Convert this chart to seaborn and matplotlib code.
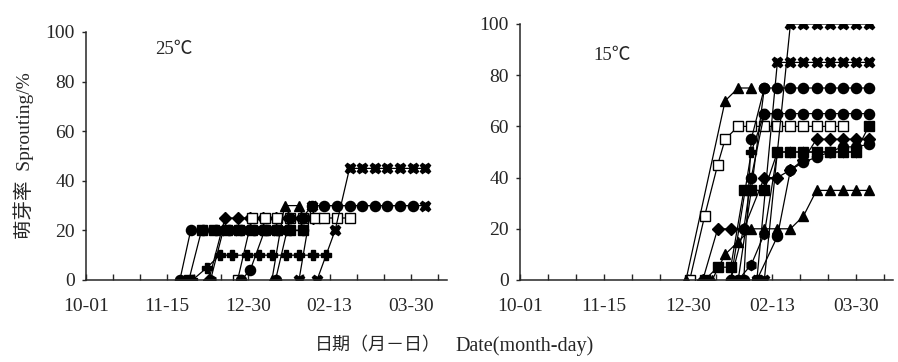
import matplotlib
matplotlib.use("Agg")
import matplotlib.pyplot as plt
import pandas as pd
import seaborn as sns

# ---------------- axis ticks ----------------
tick_dates = ["10-01", "10-16", "10-31", "11-15", "11-30", "12-15", "12-30",
              "01-14", "01-29", "02-13", "02-28", "03-15", "03-30", "04-14"]
tick_labels = ["10-01", "", "", "11-15", "", "", "12-30",
               "", "", "02-13", "", "", "03-30", ""]
y_ticks = [0, 20, 40, 60, 80, 100]

# ---------------- 25 °C panel ----------------
a1_dates = ["11-22", "11-28", "12-05", "12-12", "12-19", "12-26", "01-02", "01-09", "01-16"]
a1_vals = [0, 20, 20, 20, 20, 20, 20, 20, 20]
a2_dates = ["11-27", "12-04", "12-11", "12-18", "12-25", "01-01", "01-08", "01-15", "01-22", "01-29"]
a2_vals = [0, 20, 20, 20, 20, 20, 20, 20, 20, 20]
a3_dates = ["11-29", "12-07", "12-14", "12-21", "12-29", "01-05", "01-12", "01-20", "01-27", "02-04", "02-11"]
a3_vals = [0, 5, 10, 10, 10, 10, 10, 10, 10, 10, 10]
a4_dates = ["12-08", "12-17", "12-24", "12-31", "01-07", "01-14", "01-21", "01-28", "02-04"]
a4_vals = [0, 25, 25, 25, 25, 25, 25, 25, 25]
a5_dates = ["12-09", "12-16", "12-23", "12-30", "01-06", "01-13", "01-20"]
a5_vals = [0, 20, 20, 20, 20, 20, 20]
a6_dates = ["12-24", "01-01", "01-08", "01-15", "01-22", "01-29", "02-05", "02-10", "02-17", "02-24"]
a6_vals = [0, 25, 25, 25, 25, 25, 25, 25, 25, 25]
a7_dates = ["12-26", "12-31", "01-08", "01-15", "01-22", "01-29"]
a7_vals = [0, 4, 20, 20, 20, 20]
a8_dates = ["01-12", "01-19", "01-27"]
a8_vals = [0, 30, 30]
a9_dates = ["01-14", "01-22", "01-29", "02-03", "02-10", "02-17", "02-24", "03-03",
            "03-10", "03-17", "03-24", "03-31"]
a9_vals = [0, 25, 25, 30, 30, 30, 30, 30, 30, 30, 30, 30]
a10_dates = ["01-27", "02-03", "04-07"]
a10_vals = [0, 30, 30]
a11_dates = ["02-06", "02-16", "02-24", "03-03", "03-10", "03-17", "03-24", "03-31", "04-07"]
a11_vals = [0, 20, 45, 45, 45, 45, 45, 45, 45]

# ---------------- 15 °C panel ----------------
b1_dates = ["12-31", "01-08", "01-15", "01-19", "01-26", "02-02", "02-09", "02-16",
            "02-23", "03-02", "03-09", "03-16", "03-23"]
b1_vals = [0, 25, 45, 55, 60, 60, 60, 60, 60, 60, 60, 60, 60]
b2_dates = ["12-29", "01-19", "01-26", "02-02"]
b2_vals = [0, 70, 75, 75]
b3_dates = ["01-22", "01-29", "02-02", "02-09", "02-16", "02-23", "03-02", "03-09",
            "03-16", "03-23", "03-30", "04-06"]
b3_vals = [0, 20, 40, 65, 65, 65, 65, 65, 65, 65, 65, 65]
b4_dates = ["01-26", "02-02", "02-09", "02-16", "02-23", "03-02", "03-09", "03-16",
            "03-23", "03-30", "04-06"]
b4_vals = [0, 35, 75, 75, 75, 75, 75, 75, 75, 75, 75]
b5_dates = ["02-05", "02-16", "02-23", "03-02", "03-09", "03-16", "03-23", "03-30", "04-06"]
b5_vals = [0, 85, 85, 85, 85, 85, 85, 85, 85]
b6_dates = ["02-09", "02-23", "03-02", "03-09", "03-16", "03-23", "03-30", "04-06"]
b6_vals = [0, 100, 100, 100, 100, 100, 100, 100]
b7_dates = ["01-07", "01-15", "01-22", "01-29", "02-09", "02-16", "02-23", "03-02",
            "03-09", "03-16", "03-23", "03-30", "04-06"]
b7_vals = [0, 20, 20, 20, 40, 40, 43, 47, 55, 55, 55, 55, 55]
b8_dates = ["01-12", "01-19", "01-26", "02-02", "02-09", "02-16", "02-23", "03-02",
            "03-09", "03-16", "03-23", "03-30", "04-06"]
b8_vals = [0, 10, 15, 20, 20, 20, 20, 25, 35, 35, 35, 35, 35]
b9_dates = ["01-08", "01-15", "01-22", "01-29", "02-02", "02-09", "02-16", "02-23",
            "03-02", "03-09", "03-16", "03-23", "03-30", "04-06"]
b9_vals = [0, 5, 5, 35, 35, 35, 50, 50, 50, 50, 50, 50, 50, 60]
b10_dates = ["02-05", "02-16", "02-23", "03-02", "03-09", "03-16", "03-23", "03-30", "04-06"]
b10_vals = [0, 17, 43, 46, 48, 50, 52, 52, 53]
b11_dates = ["01-26", "02-02", "02-09", "02-16", "02-23", "03-02", "03-09", "03-16", "03-23", "03-30"]
b11_vals = [0, 6, 18, 50, 50, 50, 50, 50, 50, 50]
b12_dates = ["01-22", "02-02", "02-09", "02-16"]
b12_vals = [0, 50, 65, 65]
b13_dates = ["01-29", "02-02", "02-09"]
b13_vals = [0, 55, 75]


def to_day(md):
    m, d = (int(v) for v in md.split("-"))
    year = 2009 if m >= 10 else 2010
    return (pd.Timestamp(year, m, d) - pd.Timestamp(2009, 10, 1)).days


left_series = [
    (a1_dates, a1_vals, "o", "black"),
    (a2_dates, a2_vals, "s", "black"),
    (a3_dates, a3_vals, "P", "black"),
    (a4_dates, a4_vals, "D", "black"),
    (a5_dates, a5_vals, "h", "black"),
    (a6_dates, a6_vals, "s", "white"),
    (a7_dates, a7_vals, "o", "black"),
    (a8_dates, a8_vals, "^", "black"),
    (a9_dates, a9_vals, "o", "black"),
    (a10_dates, a10_vals, "X", "black"),
    (a11_dates, a11_vals, "X", "black"),
]
right_series = [
    (b1_dates, b1_vals, "s", "white"),
    (b2_dates, b2_vals, "^", "black"),
    (b3_dates, b3_vals, "o", "black"),
    (b4_dates, b4_vals, "o", "black"),
    (b5_dates, b5_vals, "X", "black"),
    (b6_dates, b6_vals, "X", "black"),
    (b7_dates, b7_vals, "D", "black"),
    (b8_dates, b8_vals, "^", "black"),
    (b9_dates, b9_vals, "s", "black"),
    (b10_dates, b10_vals, "o", "black"),
    (b11_dates, b11_vals, "h", "black"),
    (b12_dates, b12_vals, "P", "black"),
    (b13_dates, b13_vals, "o", "black"),
]

sns.set_style("ticks")
serif = ["Liberation Serif", "Noto Sans CJK SC"]
plt.rcParams["font.family"] = serif
plt.rcParams["axes.linewidth"] = 1.1

fig = plt.figure(figsize=(8.98, 3.62), dpi=100)
ax1 = fig.add_axes([86 / 898, 1 - 280 / 362, (447 - 86) / 898, (280 - 32) / 362])
ax2 = fig.add_axes([520 / 898, 1 - 280 / 362, (893 - 520) / 898, (280 - 24) / 362])

tick_pos = [to_day(t) for t in tick_dates]

for ax, series in ((ax1, left_series), (ax2, right_series)):
    for dates, vals, mk, fc in series:
        df = pd.DataFrame({"day": [to_day(d) for d in dates], "pct": vals})
        sns.lineplot(data=df, x="day", y="pct", ax=ax, color="black", linewidth=0.9,
                     marker=mk, markersize=7.3 if mk != "D" else 6.2,
                     markerfacecolor=fc, markeredgecolor="black", markeredgewidth=1.0,
                     estimator=None, sort=False)
    ax.set_xlim(0, 200)
    ax.set_ylim(0, 100)
    ax.set_xticks(tick_pos)
    ax.set_xticklabels(tick_labels)
    ax.set_yticks(y_ticks)
    ax.tick_params(axis="x", direction="in", length=4, width=1, pad=13, labelsize=14)
    ax.tick_params(axis="y", direction="out", length=3, width=1, pad=5, labelsize=14)
    ax.set_xlabel("")
    ax.set_ylabel("")
    for s in ("top", "right"):
        ax.spines[s].set_visible(False)
    for lab in ax.get_xticklabels() + ax.get_yticklabels():
        lab.set_fontfamily(serif)

ax1.set_ylabel("萌芽率  Sprouting/%", fontsize=14, family=serif, labelpad=8)

fig.text(155 / 898, 1 - 50 / 362, "25℃", fontsize=13.5, family=serif, va="center", ha="left")
fig.text(593 / 898, 1 - 55 / 362, "15℃", fontsize=13.5, family=serif, va="center", ha="left")
fig.text(315 / 898, 1 - 346 / 362, "日期（月－日）", fontsize=13, family=serif, va="center", ha="left")
fig.text(455 / 898, 1 - 346 / 362, "Date(month-day)", fontsize=14.5, family=serif, va="center", ha="left")

fig.savefig("out.png", dpi=100)
